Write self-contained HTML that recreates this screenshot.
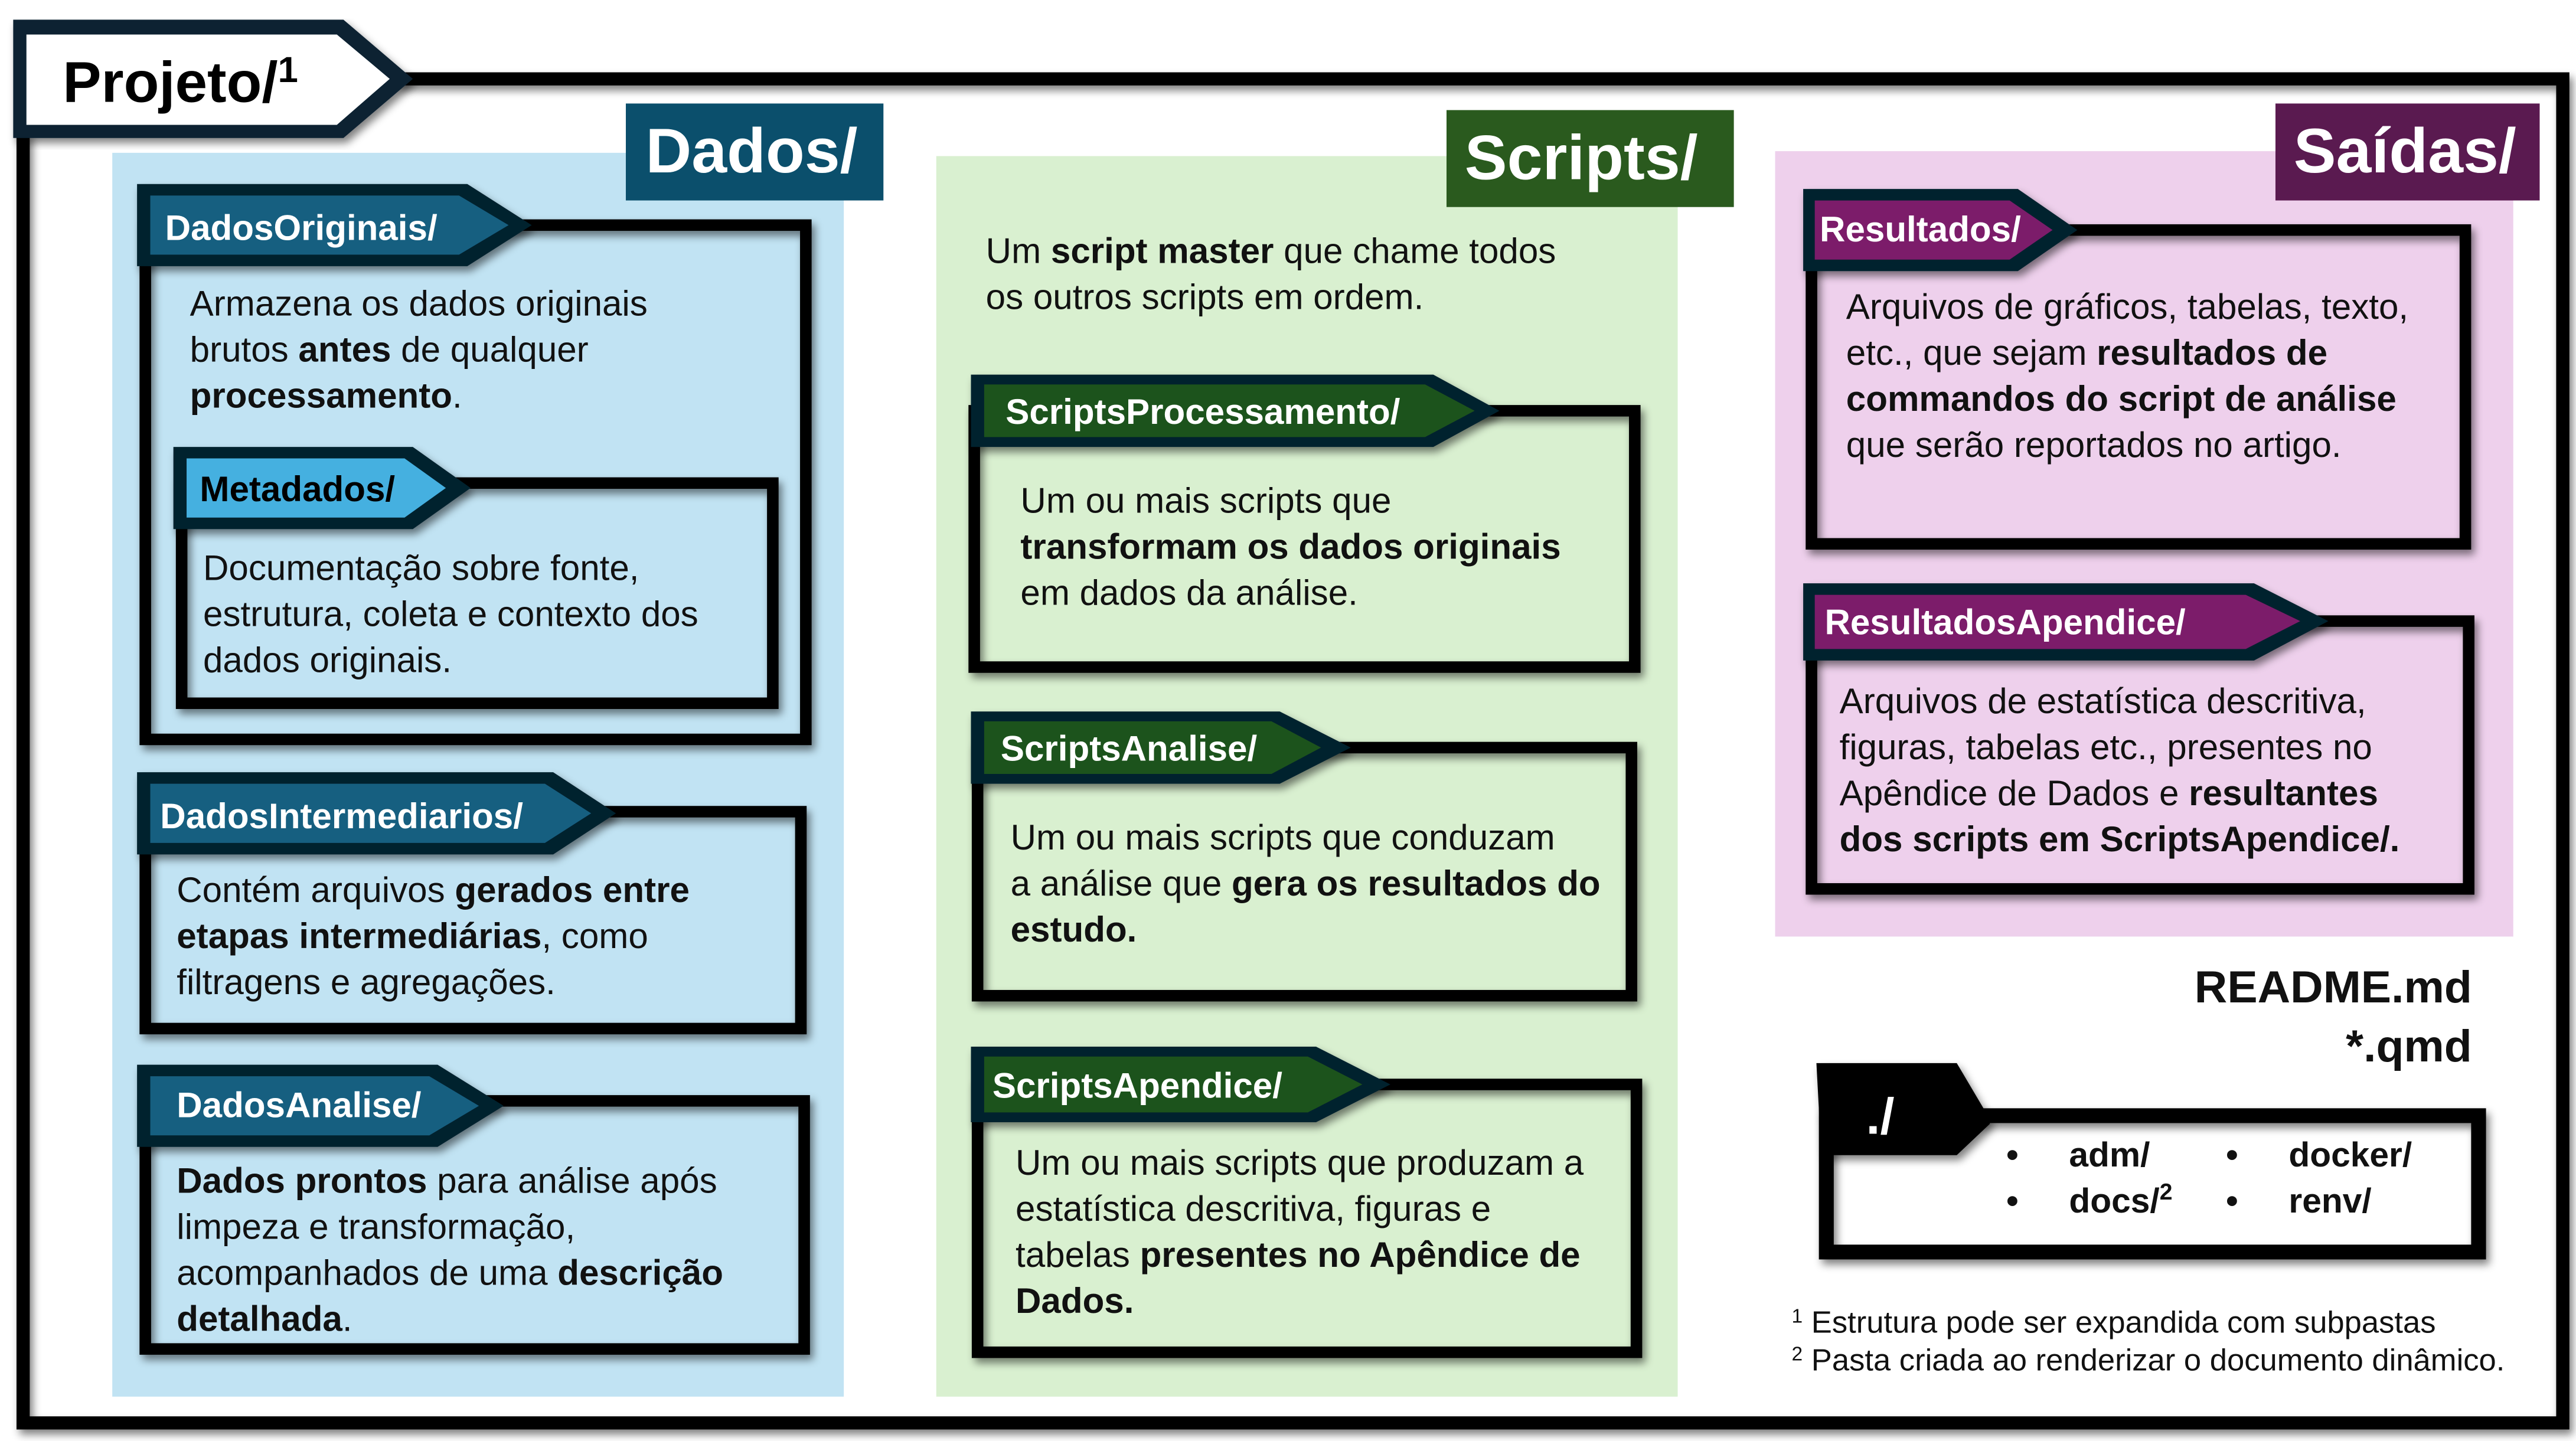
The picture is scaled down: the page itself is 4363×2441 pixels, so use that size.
<!DOCTYPE html>
<html><head><meta charset="utf-8"><style>
html,body{margin:0;padding:0;background:#fff;width:4363px;height:2441px;overflow:hidden}
svg{display:block}
text{font-family:"Liberation Sans",sans-serif;}
.t{font-size:21.5px;fill:#111}
.b{font-weight:bold}
.h{font-weight:bold;fill:#fff;font-size:21.5px}
</style></head><body>
<svg width="4363" height="2441" viewBox="0 0 1560 877" preserveAspectRatio="none" xmlns="http://www.w3.org/2000/svg">
<defs><filter id="sh" x="-5%" y="-5%" width="115%" height="115%"><feGaussianBlur in="SourceAlpha" stdDeviation="2.5"/><feOffset dx="2" dy="3"/><feComponentTransfer><feFuncA type="linear" slope="0.5"/></feComponentTransfer><feMerge><feMergeNode/><feMergeNode in="SourceGraphic"/></feMerge></filter></defs>

<g filter="url(#sh)" fill="none" stroke="#000" stroke-width="8">
<path d="M240 48 H1552 V866 H14 V80"/>
</g>
<g filter="url(#sh)">
<polygon points="8,12 208,12 250,48 208,84 8,84" fill="#0a2233"/>
<polygon points="16,21 204,21 236,48 204,76 16,76" fill="#fff"/>
</g>
<text x="38" y="62" style="font-size:35px;font-weight:bold;fill:#000">Projeto/<tspan dy="-12" style="font-size:22px">1</tspan></text>

<rect x="68" y="93" width="443" height="757" fill="#c1e3f3"/>
<rect x="567" y="95" width="449" height="755" fill="#d9f0d0"/>
<rect x="1075" y="92" width="447" height="478" fill="#eed0ec"/>
<rect x="379" y="63" width="156" height="59" fill="#0b4f6c"/>
<text x="391" y="105" style="font-size:38.5px;font-weight:bold;fill:#fff">Dados/</text>
<rect x="876" y="67" width="174" height="59" fill="#2a5a1e"/>
<text x="887" y="109" style="font-size:38.5px;font-weight:bold;fill:#fff">Scripts/</text>
<rect x="1378" y="63" width="160" height="59" fill="#5a1a50"/>
<text x="1389" y="105" style="font-size:38.5px;font-weight:bold;fill:#fff">Saídas/</text>

<g fill="none" stroke="#000" stroke-width="7" filter="url(#sh)">
<rect x="88" y="137" width="400" height="313"/>
<rect x="110" y="294" width="358" height="134"/>
<rect x="88" y="494" width="397" height="132"/>
<rect x="88" y="670" width="399" height="151"/>
<rect x="590" y="250" width="400" height="156"/>
<rect x="592" y="455" width="396" height="151"/>
<rect x="592" y="660" width="399" height="163"/>
<rect x="1097" y="140" width="396" height="191"/>
<rect x="1097" y="378" width="398" height="163"/>
<rect x="1106" y="679" width="395" height="83" stroke-width="9"/>
</g>

<g filter="url(#sh)">
<polygon points="83,112 283,112 322,137 283,162 83,162" fill="#06202f"/>
<polygon points="91,119 278,119 308,137 278,155 91,155" fill="#175e80"/>
<polygon points="105,272 250,272 285,297 250,322 105,322" fill="#06202f"/>
<polygon points="113,279 245,279 270,297 245,315 113,315" fill="#45b0e0"/>
<polygon points="83,470 335,470 373,495 335,520 83,520" fill="#06202f"/>
<polygon points="91,477 330,477 358,495 330,513 91,513" fill="#175e80"/>
<polygon points="83,648 265,648 305,673 265,698 83,698" fill="#06202f"/>
<polygon points="91,655 260,655 290,673 260,691 91,691" fill="#175e80"/>
<polygon points="588,228 868,228 908,250 868,272 588,272" fill="#06202f"/>
<polygon points="596,234 863,234 893,250 863,266 596,266" fill="#1d531b"/>
<polygon points="588,433 775,433 818,455 775,477 588,477" fill="#06202f"/>
<polygon points="596,439 770,439 800,455 770,471 596,471" fill="#1d531b"/>
<polygon points="588,637 797,637 842,660 797,683 588,683" fill="#06202f"/>
<polygon points="596,643 792,643 825,660 792,677 596,677" fill="#1d531b"/>
<polygon points="1092,115 1222,115 1258,140 1222,165 1092,165" fill="#06202f"/>
<polygon points="1099,122 1217,122 1243,140 1217,158 1099,158" fill="#7b1f6b"/>
<polygon points="1092,355 1365,355 1410,378 1365,402 1092,402" fill="#06202f"/>
<polygon points="1099,362 1360,362 1393,378 1360,395 1099,395" fill="#7b1f6b"/>
<polygon points="1100,647 1185,647 1205,681 1205,684 1185,703 1103,703" fill="#000"/>
</g>

<text class="h" x="100" y="146">DadosOriginais/</text>
<text class="b" x="121" y="305" style="font-size:21.5px;fill:#000">Metadados/</text>
<text class="h" x="97" y="504">DadosIntermediarios/</text>
<text class="h" x="107" y="680">DadosAnalise/</text>
<text class="h" x="609" y="258">ScriptsProcessamento/</text>
<text class="h" x="606" y="463">ScriptsAnalise/</text>
<text class="h" x="601" y="668">ScriptsApendice/</text>
<text class="h" x="1102" y="147">Resultados/</text>
<text class="h" x="1105" y="386">ResultadosApendice/</text>
<text x="1130" y="690" style="font-size:31px;font-weight:bold;fill:#fff">./</text>

<text class="t" x="115" y="192">Armazena os dados originais</text>
<text class="t" x="115" y="220">brutos <tspan class="b">antes</tspan> de qualquer</text>
<text class="t" x="115" y="248"><tspan class="b">processamento</tspan>.</text>

<text class="t" x="123" y="353">Documentação sobre fonte,</text>
<text class="t" x="123" y="381">estrutura, coleta e contexto dos</text>
<text class="t" x="123" y="409">dados originais.</text>

<text class="t" x="107" y="549">Contém arquivos <tspan class="b">gerados entre</tspan></text>
<text class="t" x="107" y="577"><tspan class="b">etapas intermediárias</tspan>, como</text>
<text class="t" x="107" y="605">filtragens e agregações.</text>

<text class="t" x="107" y="726"><tspan class="b">Dados prontos</tspan> para análise após</text>
<text class="t" x="107" y="754">limpeza e transformação,</text>
<text class="t" x="107" y="782">acompanhados de uma <tspan class="b">descrição</tspan></text>
<text class="t" x="107" y="810"><tspan class="b">detalhada</tspan>.</text>

<text class="t" x="597" y="160">Um <tspan class="b">script master</tspan> que chame todos</text>
<text class="t" x="597" y="188">os outros scripts em ordem.</text>

<text class="t" x="618" y="312">Um ou mais scripts que</text>
<text class="t" x="618" y="340"><tspan class="b">transformam os dados originais</tspan></text>
<text class="t" x="618" y="368">em dados da análise.</text>

<text class="t" x="612" y="517">Um ou mais scripts que conduzam</text>
<text class="t" x="612" y="545">a análise que <tspan class="b">gera os resultados do</tspan></text>
<text class="t" x="612" y="573"><tspan class="b">estudo.</tspan></text>

<text class="t" x="615" y="715">Um ou mais scripts que produzam a</text>
<text class="t" x="615" y="743">estatística descritiva, figuras e</text>
<text class="t" x="615" y="771">tabelas <tspan class="b">presentes no Apêndice de</tspan></text>
<text class="t" x="615" y="799"><tspan class="b">Dados.</tspan></text>

<text class="t" x="1118" y="194">Arquivos de gráficos, tabelas, texto,</text>
<text class="t" x="1118" y="222">etc., que sejam <tspan class="b">resultados de</tspan></text>
<text class="t" x="1118" y="250"><tspan class="b">commandos do script de análise</tspan></text>
<text class="t" x="1118" y="278">que serão reportados no artigo.</text>

<text class="t" x="1114" y="434">Arquivos de estatística descritiva,</text>
<text class="t" x="1114" y="462">figuras, tabelas etc., presentes no</text>
<text class="t" x="1114" y="490">Apêndice de Dados e <tspan class="b">resultantes</tspan></text>
<text class="t" x="1114" y="518"><tspan class="b">dos scripts em ScriptsApendice/.</tspan></text>

<text x="1497" y="610" text-anchor="end" style="font-size:27.5px;font-weight:bold;fill:#111">README.md</text>
<text x="1497" y="646" text-anchor="end" style="font-size:27.5px;font-weight:bold;fill:#111">*.qmd</text>

<g style="font-size:21px;font-weight:bold;fill:#111">
<text x="1215" y="710">•</text><text x="1253" y="710">adm/</text>
<text x="1215" y="738">•</text><text x="1253" y="738">docs/<tspan dy="-8" style="font-size:14px">2</tspan></text>
<text x="1348" y="710">•</text><text x="1386" y="710">docker/</text>
<text x="1348" y="738">•</text><text x="1386" y="738">renv/</text>
</g>

<text x="1085" y="811" style="font-size:18.8px;fill:#111"><tspan dy="-6" style="font-size:12px">1</tspan><tspan dy="6"> Estrutura pode ser expandida com subpastas</tspan></text>
<text x="1085" y="834" style="font-size:18.8px;fill:#111"><tspan dy="-6" style="font-size:12px">2</tspan><tspan dy="6"> Pasta criada ao renderizar o documento dinâmico.</tspan></text>
</svg>
</body></html>
